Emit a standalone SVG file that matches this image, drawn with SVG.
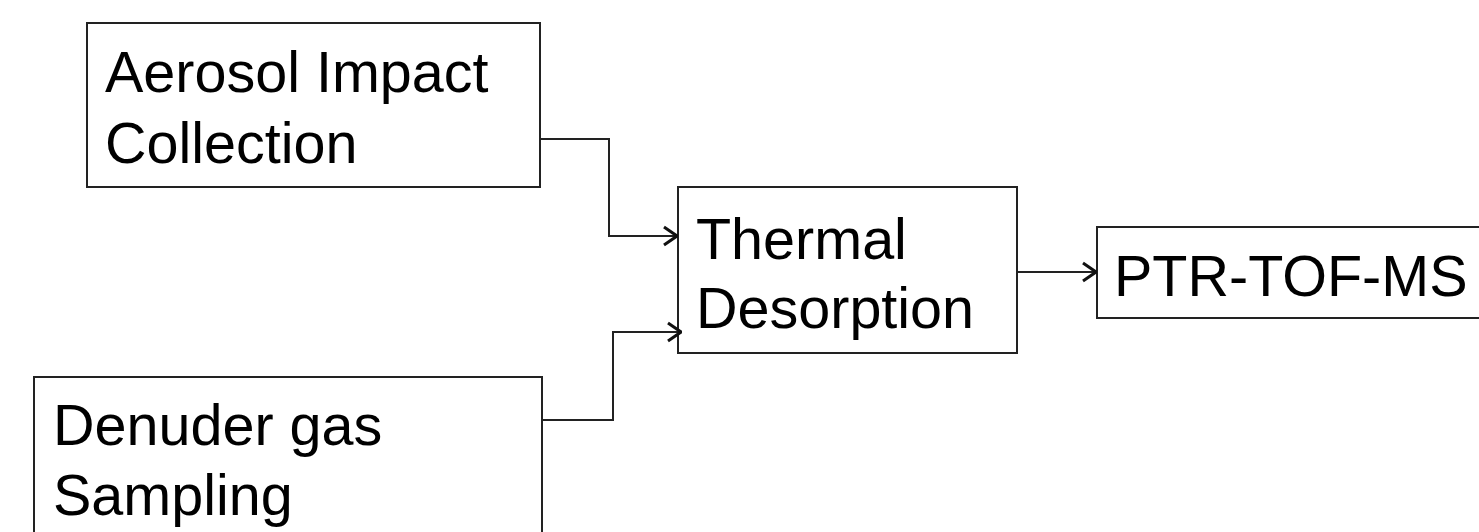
<svg xmlns="http://www.w3.org/2000/svg" width="1479" height="532" viewBox="0 0 1479 532">
<style>
.box{fill:#fff;stroke:#222;stroke-width:2}
.lbl{font-family:"Liberation Sans",Arial,sans-serif;font-size:57.5px;fill:#000}
.con{fill:none;stroke:#222;stroke-width:2}
</style>
<defs>
<marker id="arr" viewBox="0 0 16 22" refX="15" refY="11" markerWidth="16" markerHeight="22" markerUnits="userSpaceOnUse" orient="auto">
<path d="M2,2 L15,11 L2,20" fill="none" stroke="#111" stroke-width="3"/>
</marker>
</defs>
<rect width="1479" height="532" fill="#fff"/>
<g id="aerosol">
<rect class="box" x="87" y="23" width="453" height="164"/>
<text class="lbl" x="105" y="92">Aerosol Impact</text>
<text class="lbl" x="105" y="163">Collection</text>
</g>
<g id="denuder">
<rect class="box" x="34" y="377" width="508" height="170"/>
<text class="lbl" x="53" y="445">Denuder gas</text>
<text class="lbl" x="53" y="515">Sampling</text>
</g>
<g id="thermal">
<rect class="box" x="678" y="187" width="339" height="166"/>
<text class="lbl" x="696" y="259">Thermal</text>
<text class="lbl" x="696" y="328">Desorption</text>
</g>
<g id="ptr">
<rect class="box" x="1097" y="227" width="400" height="91"/>
<text class="lbl" x="1114" y="296">PTR-TOF-MS</text>
</g>
<g id="connectors">
<path class="con" d="M540,139 H609 V236 H677" marker-end="url(#arr)"/>
<path class="con" d="M542,420 H613 V332 H681" marker-end="url(#arr)"/>
<path class="con" d="M1017,272 H1096" marker-end="url(#arr)"/>
</g>
</svg>
